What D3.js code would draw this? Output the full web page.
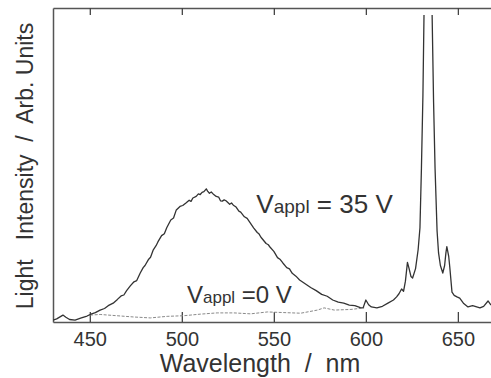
<!DOCTYPE html>
<html>
<head>
<meta charset="utf-8">
<script src="https://cdn.jsdelivr.net/npm/d3@7"></script>
<style>
  body { margin: 0; background: #fff; }
  text { font-family: "Liberation Sans", Arial, sans-serif; fill: #333; }
</style>
</head>
<body>
<script>
// spectrum at 35 V (wavelength in nm, intensity in arb. units)
var wl35 = [430, 432, 435.4, 437, 439, 442, 445, 448.5, 451, 453, 455.6, 458, 460, 462.7, 465, 467, 468.5, 470, 472, 474, 475.5, 477.4,
  479, 480, 482, 483, 484.5, 486, 487, 489, 490.5, 491.8, 494, 495.5, 497, 499, 500.5, 502.4, 504, 505, 506, 507.8, 509, 510, 511, 512, 513.3, 514, 515, 516, 517, 518.7, 520,
  521, 522, 523, 524, 526, 527, 528, 529.5, 531, 532, 534, 535.5, 536.7, 539, 541, 542, 543, 545.8, 547, 548, 550, 552, 553.5, 554.9, 557, 558.5, 560, 562, 564,
  567, 570, 573, 576, 579, 582, 585, 588, 591, 594, 597, 598.5, 600, 601.5, 603, 606, 609, 612, 615, 616.7,
  618, 619.4, 620.5, 621.5, 622.6, 623.5, 624.5, 625.4, 627, 628.4, 629.4, 630.2, 631, 631.6, 632.6, 635, 636, 636.8, 637.6, 638.7,
  639.5, 640.5, 641.8, 642.8, 643.5, 644, 645, 645.6, 646.8, 648, 649.5, 651, 653, 655.5, 658, 662, 664, 666.4, 668];
var int35 = [0.6, 1.0, 2.2, 1.5, 0.8, 0.6, 1.2, 1.9, 2.6, 3.0, 3.8, 4.3, 5.2, 6.0, 7.2, 8.3, 8.6, 10, 11.5, 12.8, 13.2, 15.6,
  17.3, 18, 20, 20.6, 23, 24.3, 25.5, 27.5, 28.1, 30, 32.5, 33.1, 35.7, 36.8, 37.1, 38, 38.8, 38.4, 39.5, 40, 40.8, 40.6, 41.3, 41.5, 42.4, 41.7, 41, 41.4, 40.8, 40, 39.8,
  38.6, 38.5, 38.9, 38.6, 37.5, 37.9, 37.2, 36.6, 35.3, 35, 33.5, 33.0, 32, 30, 28.5, 28.0, 27, 25, 24.6, 23.8, 22.5, 20.5, 19.9, 18.8, 17.3, 16.9, 15.5, 14.6, 13.4,
  12.2, 11, 10, 8.8, 8.2, 7, 6.3, 6.0, 5.4, 5.2, 4.6, 4.5, 7, 5.5, 4.8, 4.5, 5.0, 6.0, 7.0, 8,
  9, 10.5, 9.8, 13, 19, 17, 14.5, 14.0, 17, 23, 30, 49, 72, 98, 130, 130, 98, 70, 49, 29,
  22, 18, 15.6, 18, 22, 24, 21, 17.5, 9.5, 8.5, 8, 7.6, 6, 4.8, 5.2, 4.5, 5, 6.7, 5.4];

// spectrum at 0 V
var wl0 = [450.2, 455.6, 464.7, 473.8, 482.9, 492, 501, 510, 519.2, 528.3, 537.4, 546.5, 555.5, 564.6, 573.7, 577.3, 582.8, 591.9, 599.1];
var int0 = [2.2, 2.4, 2.0, 1.6, 1.3, 1.8, 2.0, 2.5, 2.9, 2.9, 2.6, 3.2, 3.0, 2.8, 3.8, 4.5, 3.8, 4.0, 4.5];

var xTicks = [450, 500, 550, 600, 650];

// Rand und Größe
var margin = {top: 8, right: 0, bottom: 56, left: 53}
  , width = 491 - margin.left - margin.right
  , height = 378 - margin.top - margin.bottom;

var xScale = d3.scaleLinear().domain([430, 668]).range([0, width]);
var yScale = d3.scaleLinear().domain([0, 100]).range([height, 0]);

var svg = d3.select("body").append("svg")
  .attr("width", 491)
  .attr("height", 378)
  .append("g")
  .attr("transform", "translate(" + margin.left + "," + margin.top + ")");

// clip so the big peak stops just under the top line
svg.append("clipPath").attr("id", "clip")
  .append("rect").attr("x", 0).attr("y", 7).attr("width", width).attr("height", height - 7);

// bottom axis with inner ticks
var xb = svg.append("g")
  .attr("transform", "translate(0," + height + ")")
  .call(d3.axisBottom(xScale).tickValues(xTicks).tickSizeInner(-10).tickSizeOuter(0).tickPadding(10));
xb.select(".domain").attr("stroke", "#555").attr("stroke-width", 1.5);
xb.selectAll(".tick line").attr("stroke", "#444").attr("stroke-width", 1.3);
xb.selectAll(".tick text").style("font-size", "20px").attr("fill", "#333");

// top axis, ticks only
var xt = svg.append("g")
  .call(d3.axisTop(xScale).tickValues(xTicks).tickSizeInner(-7).tickSizeOuter(0).tickFormat(""));
xt.select(".domain").attr("stroke", "#555").attr("stroke-width", 1.3);
xt.selectAll(".tick line").attr("stroke", "#444").attr("stroke-width", 1.3);

// left axis without ticks
var yl = svg.append("g")
  .call(d3.axisLeft(yScale).tickValues([]).tickSizeOuter(0));
yl.select(".domain").attr("stroke", "#555").attr("stroke-width", 1.5);

// lines
var line = d3.line()
  .x(function(d) { return xScale(d[0]); })
  .y(function(d) { return yScale(d[1]); });

svg.append("path")
  .datum(wl0.map(function(w, i) { return [w, int0[i]]; }))
  .attr("d", line)
  .attr("fill", "none")
  .attr("stroke", "#8a8a8a")
  .attr("stroke-width", 1)
  .attr("stroke-dasharray", "3,1.5");

svg.append("path")
  .datum(wl35.map(function(w, i) { return [w, int35[i]]; }))
  .attr("d", line)
  .attr("clip-path", "url(#clip)")
  .attr("fill", "none")
  .attr("stroke", "#333")
  .attr("stroke-width", 1.3)
  .attr("stroke-linejoin", "round");

// annotations
var a1 = svg.append("text")
  .attr("x", xScale(540.5))
  .attr("y", yScale(34.7));
a1.append("tspan").style("font-size", "26px").text("V");
a1.append("tspan").style("font-size", "19px").text("appl");
a1.append("tspan").style("font-size", "26px").style("white-space", "pre").text(" = 35 V");

var a2 = svg.append("text")
  .attr("x", xScale(502.8))
  .attr("y", yScale(6));
a2.append("tspan").style("font-size", "24px").text("V");
a2.append("tspan").style("font-size", "17px").text("appl");
a2.append("tspan").style("font-size", "24px").style("white-space", "pre").text(" =0 V");

// axis labels
svg.append("text")
  .attr("text-anchor", "middle")
  .attr("x", width / 2 - 12)
  .attr("y", height + 50)
  .style("font-size", "25px")
  .style("white-space", "pre")
  .text("Wavelength  /  nm");

svg.append("text")
  .attr("text-anchor", "middle")
  .attr("transform", "translate(" + (33 - margin.left) + "," + (166 - margin.top) + ") rotate(-90)")
  .style("font-size", "23px")
  .style("white-space", "pre")
  .text("Light   Intensity  /  Arb. Units");
</script>
</body>
</html>
